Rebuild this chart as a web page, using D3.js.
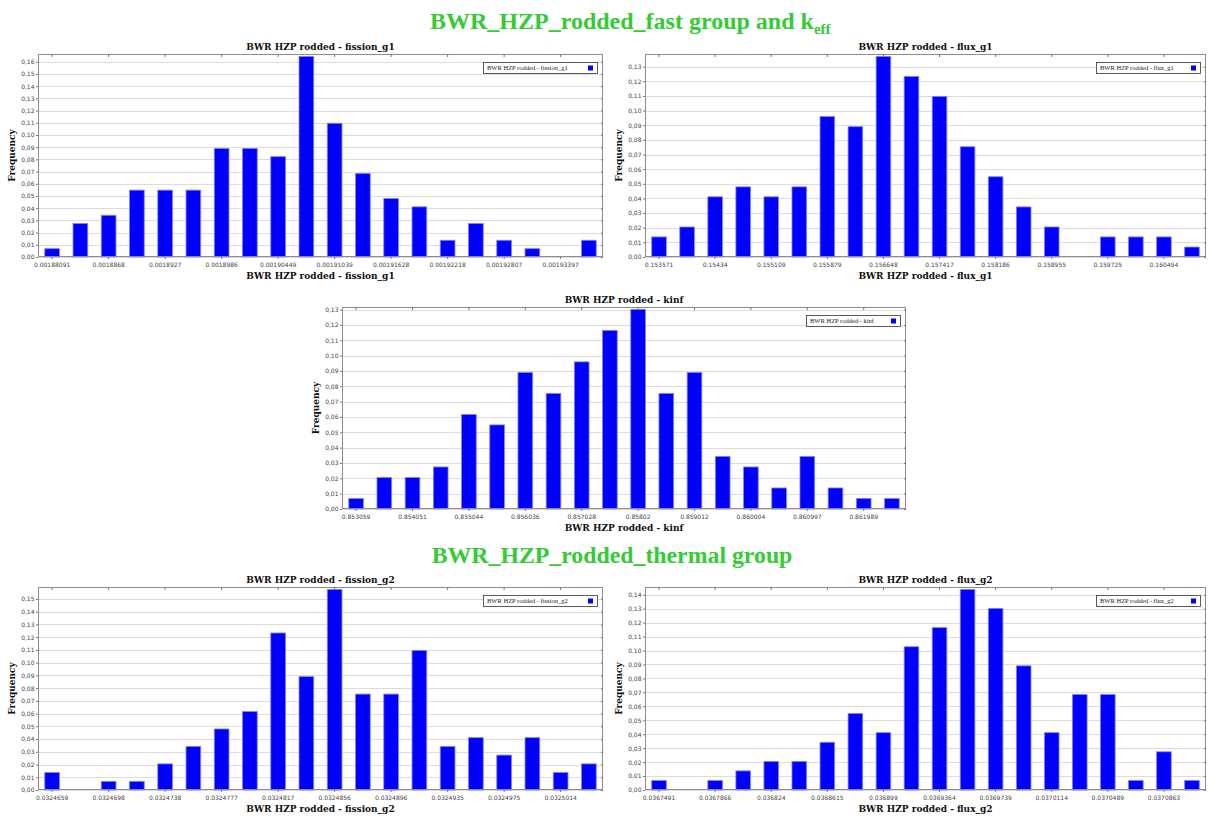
<!DOCTYPE html>
<html>
<head>
<meta charset="utf-8">
<script src="https://cdn.jsdelivr.net/npm/d3@7"></script>
<style>
  html, body { margin: 0; padding: 0; background: #fff; }
  svg { display: block; }
  .tick text { font-family: "DejaVu Sans", sans-serif; font-size: 6px; fill: #444; }
  .ptitle { font-family: "DejaVu Serif", serif; font-weight: bold; font-size: 9px; fill: #111; }
  .legend text { font-family: "Liberation Serif", serif; font-size: 6.5px; fill: #222; }
  .header { font-family: "Liberation Serif", serif; font-weight: bold; fill: #33cc33; }
</style>
</head>
<body>
<svg id="chart" width="1210" height="816"></svg>
<script>
// Relative frequencies per bin (146 samples, 20 bins each)
const fissionG1 = [0.0068, 0.0274, 0.0342, 0.0548, 0.0548, 0.0548, 0.0890, 0.0890, 0.0822, 0.1644,
                   0.1096, 0.0685, 0.0479, 0.0411, 0.0137, 0.0274, 0.0137, 0.0068, 0.0000, 0.0137];
const fluxG1    = [0.0137, 0.0205, 0.0411, 0.0479, 0.0411, 0.0479, 0.0959, 0.0890, 0.1370, 0.1233,
                   0.1096, 0.0753, 0.0548, 0.0342, 0.0205, 0.0000, 0.0137, 0.0137, 0.0137, 0.0068];
const kinf      = [0.0068, 0.0205, 0.0205, 0.0274, 0.0616, 0.0548, 0.0890, 0.0753, 0.0959, 0.1164,
                   0.1301, 0.0753, 0.0890, 0.0342, 0.0274, 0.0137, 0.0342, 0.0137, 0.0068, 0.0068];
const fissionG2 = [0.0137, 0.0000, 0.0068, 0.0068, 0.0205, 0.0342, 0.0479, 0.0616, 0.1233, 0.0890,
                   0.1575, 0.0753, 0.0753, 0.1096, 0.0342, 0.0411, 0.0274, 0.0411, 0.0137, 0.0205];
const fluxG2    = [0.0068, 0.0000, 0.0068, 0.0137, 0.0205, 0.0205, 0.0342, 0.0548, 0.0411, 0.1027,
                   0.1164, 0.1438, 0.1301, 0.0890, 0.0411, 0.0685, 0.0685, 0.0068, 0.0274, 0.0068];

// Bin-centre labels (shown on every second bin)
const fissionG1Labels = ["0.00188091", "0.0018868", "0.0018927", "0.0018986", "0.00190449",
                         "0.00191039", "0.00191628", "0.00192218", "0.00192807", "0.00193397"];
const fluxG1Labels    = ["0.153571", "0.15434", "0.155109", "0.155879", "0.156648",
                         "0.157417", "0.158186", "0.158955", "0.159725", "0.160494"];
const kinfLabels      = ["0.853059", "0.854051", "0.855044", "0.856036", "0.857028",
                         "0.85802", "0.859012", "0.860004", "0.860997", "0.861989"];
const fissionG2Labels = ["0.0324659", "0.0324698", "0.0324738", "0.0324777", "0.0324817",
                         "0.0324856", "0.0324896", "0.0324935", "0.0324975", "0.0325014"];
const fluxG2Labels    = ["0.0367491", "0.0367866", "0.036824", "0.0368615", "0.036899",
                         "0.0369364", "0.0369739", "0.0370114", "0.0370489", "0.0370863"];

const svg = d3.select("#chart");
// frequency ticks use a decimal comma: 0,01 0,02 ...
const commaFmt = d => d.toFixed(2).replace(".", ",");

// Section headers
svg.append("text").attr("class", "header").attr("x", 430).attr("y", 29)
  .style("font-size", "24px")
  .call(t => {
    t.append("tspan").text("BWR_HZP_rodded_fast group and k");
    t.append("tspan").attr("dy", 5).style("font-size", "15px").text("eff");
  });
svg.append("text").attr("class", "header").attr("x", 612).attr("y", 563)
  .attr("text-anchor", "middle").style("font-size", "23.8px")
  .text("BWR_HZP_rodded_thermal group");

function histogram(name, values, labels, box) {
  const g = svg.append("g");
  const x = d3.scaleBand().domain(d3.range(values.length))
    .range([box.x0, box.x1]).paddingInner(0.48).paddingOuter(0.24);
  const yMax = d3.max(values) * 1.012;
  const y = d3.scaleLinear().domain([0, yMax]).range([box.y1, box.y0]);
  const yTicks = d3.range(0, Math.floor(yMax * 100 + 1e-6) + 1).map(i => i / 100);
  const xTicks = d3.range(0, values.length, 2);

  // plot background
  g.append("rect").attr("x", box.x0).attr("y", box.y0)
    .attr("width", box.x1 - box.x0).attr("height", box.y1 - box.y0)
    .attr("fill", "#fff");

  // horizontal grid
  g.append("g").selectAll("line").data(yTicks).join("line")
    .attr("x1", box.x0).attr("x2", box.x1)
    .attr("y1", d => Math.round(y(d)) + 0.5).attr("y2", d => Math.round(y(d)) + 0.5)
    .attr("stroke", "#dcdcdc").attr("stroke-width", 1);

  // bars
  g.append("g").selectAll("rect").data(values).join("rect")
    .attr("x", (d, i) => x(i)).attr("width", x.bandwidth())
    .attr("y", d => y(d)).attr("height", d => Math.max(0, y(0) - y(d)))
    .attr("fill", d => d > 0 ? "#0000ff" : "none")
    .attr("stroke", d => d > 0 ? "#8080ff" : "none").attr("stroke-width", 0.8);

  // frame
  g.append("rect").attr("x", box.x0 + 0.5).attr("y", box.y0 + 0.5)
    .attr("width", box.x1 - box.x0 - 1).attr("height", box.y1 - box.y0 - 1)
    .attr("fill", "none").attr("stroke", "#8c8c8c");

  // axes
  const left = g.append("g").attr("transform", `translate(${box.x0},0)`)
    .call(d3.axisLeft(y).tickValues(yTicks).tickFormat(commaFmt).tickSize(2).tickPadding(1.5));
  const right = g.append("g").attr("transform", `translate(${box.x1},0)`)
    .call(d3.axisLeft(y).tickValues(yTicks).tickFormat("").tickSize(2));
  const bottom = g.append("g").attr("transform", `translate(0,${box.y1})`)
    .call(d3.axisBottom(x).tickValues(xTicks).tickFormat(i => labels[i / 2]).tickSize(2).tickPadding(4));
  const top = g.append("g").attr("transform", `translate(0,${box.y0})`)
    .call(d3.axisBottom(x).tickValues(xTicks).tickFormat("").tickSize(3));
  [left, right, bottom, top].forEach(a => {
    a.select(".domain").remove();
    a.selectAll(".tick line").attr("stroke", "#777");
  });

  // titles
  const cx = (box.x0 + box.x1) / 2;
  g.append("text").attr("class", "ptitle").attr("x", cx).attr("y", box.y0 - 4)
    .attr("text-anchor", "middle").text(name);
  g.append("text").attr("class", "ptitle").attr("x", cx).attr("y", box.y1 + 22)
    .attr("text-anchor", "middle").text(name);
  g.append("text").attr("class", "ptitle")
    .attr("transform", `translate(${box.x0 - 23},${(box.y0 + box.y1) / 2}) rotate(-90)`)
    .attr("text-anchor", "middle").text("Frequency");

  // legend
  const lg = g.append("g").attr("class", "legend");
  const lw = box.legendW, lh = 11;
  const lx = box.x1 - 6 - lw, ly = box.y0 + 8;
  lg.append("rect").attr("x", lx + 0.5).attr("y", ly + 0.5).attr("width", lw).attr("height", lh)
    .attr("fill", "#fff").attr("stroke", "#333").attr("stroke-width", 0.8);
  lg.append("text").attr("x", lx + 4).attr("y", ly + 8).text(name);
  lg.append("rect").attr("x", lx + lw - 9).attr("y", ly + 3.5).attr("width", 5).attr("height", 5)
    .attr("fill", "#0000ff");
}

histogram("BWR HZP rodded - fission_g1", fissionG1, fissionG1Labels, {x0: 38, x1: 603, y0: 54, y1: 257, legendW: 114});
histogram("BWR HZP rodded - flux_g1", fluxG1, fluxG1Labels, {x0: 645, x1: 1206, y0: 54, y1: 257, legendW: 104});
histogram("BWR HZP rodded - kinf", kinf, kinfLabels, {x0: 342, x1: 906, y0: 307, y1: 509, legendW: 94});
histogram("BWR HZP rodded - fission_g2", fissionG2, fissionG2Labels, {x0: 38, x1: 603, y0: 587, y1: 790, legendW: 114});
histogram("BWR HZP rodded - flux_g2", fluxG2, fluxG2Labels, {x0: 645, x1: 1206, y0: 587, y1: 790, legendW: 104});
</script>
</body>
</html>
